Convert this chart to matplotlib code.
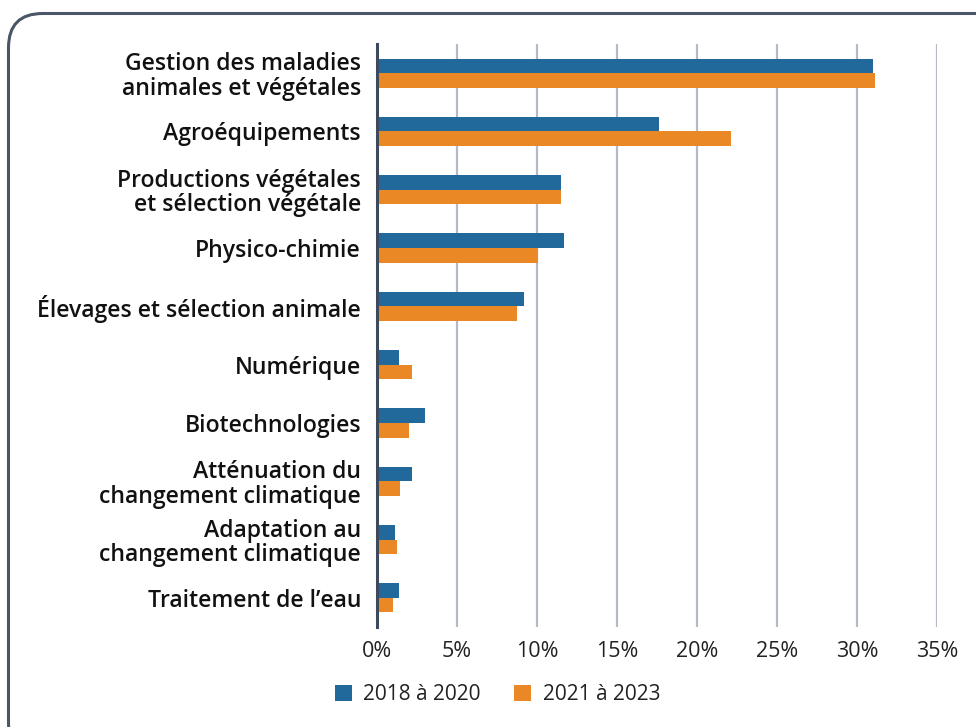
import matplotlib
matplotlib.use("Agg")
import matplotlib.pyplot as plt
from matplotlib.patches import FancyBboxPatch, Patch
import numpy as np

categories = [
    "Gestion des maladies\nanimales et végétales",
    "Agroéquipements",
    "Productions végétales\net sélection végétale",
    "Physico-chimie",
    "Élevages et sélection animale",
    "Numérique",
    "Biotechnologies",
    "Atténuation du\nchangement climatique",
    "Adaptation au\nchangement climatique",
    "Traitement de l\u2019eau",
]
series_2018_2020 = [31.0, 17.6, 11.5, 11.7, 9.2, 1.35, 3.0, 2.2, 1.1, 1.35]
series_2021_2023 = [31.1, 22.1, 11.5, 10.05, 8.75, 2.2, 2.0, 1.45, 1.25, 1.0]
series_labels = ["2018 à 2020", "2021 à 2023"]
xticks = [0, 5, 10, 15, 20, 25, 30, 35]
xtick_labels = ["0%", "5%", "10%", "15%", "20%", "25%", "30%", "35%"]

blue = "#21699a"
orange = "#e98824"

W, H = 976, 727
fig = plt.figure(figsize=(W / 100, H / 100), dpi=100)

# rounded frame (extends beyond right/bottom edges as in the reference)
frame = FancyBboxPatch((8.5 / W, -30 / H), (1010 - 8.5) / W, (H - 13.5 + 30) / H,
                       boxstyle="round,pad=0,rounding_size=0.035",
                       transform=fig.transFigure, facecolor="white",
                       edgecolor="#4a5568", linewidth=2.2, zorder=0,
                       mutation_aspect=W / H)
fig.patches.append(frame)

ax = fig.add_axes([377 / W, 1 - 627 / H, (937 - 377) / W, (627 - 44) / H])
ax.set_zorder(2)
ax.set_facecolor("none")

y = np.arange(len(categories))
bh = 0.25
ax.barh(y - bh / 2, series_2018_2020, height=bh, color=blue, zorder=3)
ax.barh(y + bh / 2, series_2021_2023, height=bh, color=orange, zorder=3)

ax.set_xlim(0, 35)
ax.set_ylim(len(categories) - 0.5, -0.5)

ax.set_xticks(xticks)
ax.set_xticklabels(xtick_labels, fontfamily="Open Sans", fontsize=15.5, color="#222222")
ax.tick_params(axis="x", length=0, pad=10)
ax.set_yticks(y)
ax.set_yticklabels(categories, fontfamily="Open Sans", fontweight="semibold", fontsize=16.6,
                   color="#111111", linespacing=1.03)
ax.tick_params(axis="y", length=0, pad=11.5)

for t in xticks[1:]:
    ax.axvline(t, color="#b3b9c7", linewidth=1.6, zorder=1)
for s in ["top", "right", "bottom"]:
    ax.spines[s].set_visible(False)
ax.spines["left"].set_color("#3e4a5c")
ax.spines["left"].set_linewidth(2.2)
ax.spines["left"].set_zorder(4)

handles = [Patch(facecolor=blue, edgecolor="none"), Patch(facecolor=orange, edgecolor="none")]
leg = fig.legend(handles, series_labels, loc="center left",
                 bbox_to_anchor=(335 / W, 1 - 695 / H), ncol=2, frameon=False,
                 prop={"family": "Open Sans", "size": 15},
                 handlelength=0.83, handleheight=0.83, handletextpad=0.53,
                 columnspacing=1.6, borderpad=0, borderaxespad=0)
leg.set_zorder(3)
for txt in leg.get_texts():
    txt.set_color("#222222")

fig.savefig("out.png", dpi=100)
